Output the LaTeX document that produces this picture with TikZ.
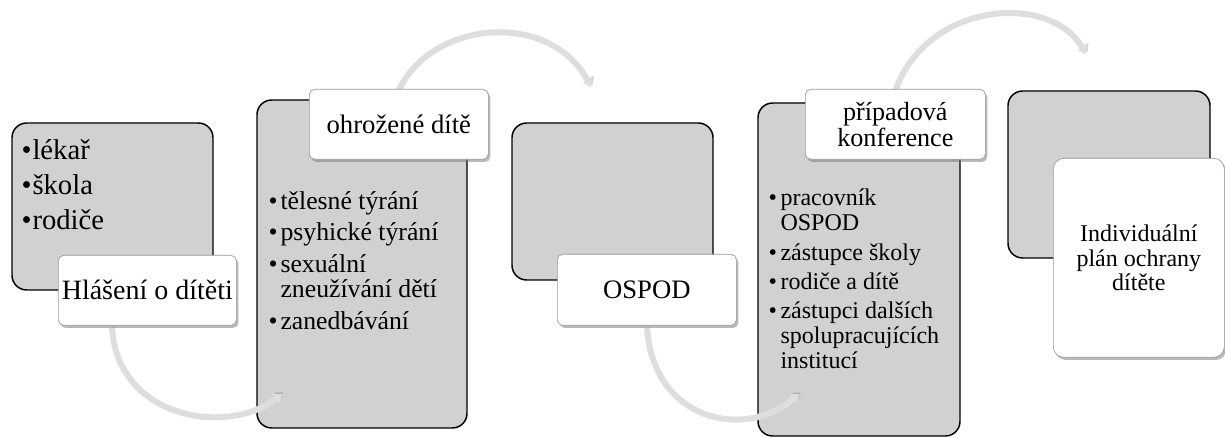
\documentclass[tikz,border=0pt]{standalone}
\usepackage{fontspec}
\setmainfont{Liberation Serif}
\usetikzlibrary{positioning,calc,fit,shadows,arrows.meta}
\pgfdeclarelayer{back}
\pgfdeclarelayer{mid}
\pgfsetlayers{back,mid,main}
\setlength{\lineskiplimit}{-20pt}

\newcommand{\bul}[2][9pt]{\makebox[#1][l]{\textbullet}#2}
\newcommand{\ind}{\hspace*{9pt}}

\tikzset{
  greybox/.style={draw=black, line width=1.1pt, fill=black!18, rounded corners=11pt, inner sep=0pt},
  capbox/.style={draw=black!40, line width=0.5pt, fill=white, rounded corners=4pt, inner sep=0pt, align=center,
    anchor=north west, drop shadow={shadow xshift=1.5pt, shadow yshift=-2pt, opacity=0.5, fill=black!55}},
  listtext/.style={anchor=base west, inner sep=0pt, align=left},
  bendarrow/.style={line width=4.5pt, draw=black!13, -{Triangle[length=6pt,width=8pt]},
    preaction={draw=black!35, draw opacity=0.35, transform canvas={shift={(1.5,2)}}}}
}

\begin{document}
\begin{tikzpicture}[x=0.75pt,y=0.75pt,yscale=-1,xscale=1]
\useasboundingbox (0,0) rectangle (1225,438);
% grey blocks
\begin{pgfonlayer}{back}
\node[greybox, fit={(12,123) (213,290)}] (g1) {};
\node[greybox, fit={(257,100) (467,428)}] (g2) {};
\node[greybox, fit={(512,123) (713,280)}] (g3) {};
\node[greybox, fit={(758,103) (960,436)}] (g4) {};
\node[greybox, fit={(1008,91) (1210,258)}] (g5) {};
\end{pgfonlayer}
% captions
\node[capbox, minimum width=133.5pt, minimum height=52.5pt, font=\fontsize{21}{24}\selectfont] (c1) at (58,255) {Hlášení o dítěti};
\node[capbox, minimum width=134.25pt, minimum height=52.5pt, font=\fontsize{20}{24}\selectfont] (c2) at (309,89) {ohrožené dítě};
\node[capbox, minimum width=134.25pt, minimum height=53.25pt, font=\fontsize{20}{24}\selectfont] (c3) at (557,254) {OSPOD};
\node[capbox, minimum width=135pt, minimum height=52.5pt, font=\fontsize{19.6}{19.5}\selectfont] (c4) at (805,89) {případová\\konference};
\node[capbox, rounded corners=8pt, minimum width=128.25pt, minimum height=149.25pt, font=\fontsize{18}{18.4}\selectfont] (c5) at (1053,158) {Individuální\\plán ochrany\\dítěte};
% bullet lists (anchored at the last baseline)
\node[listtext, font=\fontsize{21.5}{26}\selectfont] (t1) at ($(g1.north west)+(10,107)$)
  {\bul[8.25pt]{lékař}\\ \bul[8.25pt]{škola}\\ \bul[8.25pt]{rodiče}};
\node[listtext, font=\fontsize{19.3}{18.8}\selectfont] (t2) at ($(g2.north west)+(12,230)$)
  {\bul{tělesné týrání}\\[5pt] \bul{psyhické týrání}\\[5pt] \bul{sexuální}\\ \ind zneužívání dětí\\[5pt] \bul{zanedbávání}};
\node[listtext, font=\fontsize{18}{18.8}\selectfont] (t4) at ($(g4.north west)+(11,266)$)
  {\bul{pracovník}\\ \ind OSPOD\\[3pt] \bul{zástupce školy}\\[3pt] \bul{rodiče a dítě}\\[3pt] \bul{zástupci dalších}\\ \ind spolupracujících\\ \ind institucí};
% bent arrows
\begin{pgfonlayer}{mid}
\draw[bendarrow] ($(c1.south west)+(54,2)$) .. controls +(6,93) and +(-53,42) .. ($(g2.south west)+(26,-35)$);
\draw[bendarrow] ($(c2.north west)+(89,3)$) .. controls +(32,-72) and +(-42,-78) .. ($(g3.north west)+(80,-35)$);
\draw[bendarrow] ($(c3.south west)+(90,2)$) .. controls +(6,93) and +(-55,47) .. ($(g4.south west)+(42,-43)$);
\draw[bendarrow] ($(c4.north west)+(90,3)$) .. controls +(30,-90) and +(-37,-63) .. ($(g5.north west)+(79,-36)$);
\end{pgfonlayer}
\end{tikzpicture}
\end{document}
